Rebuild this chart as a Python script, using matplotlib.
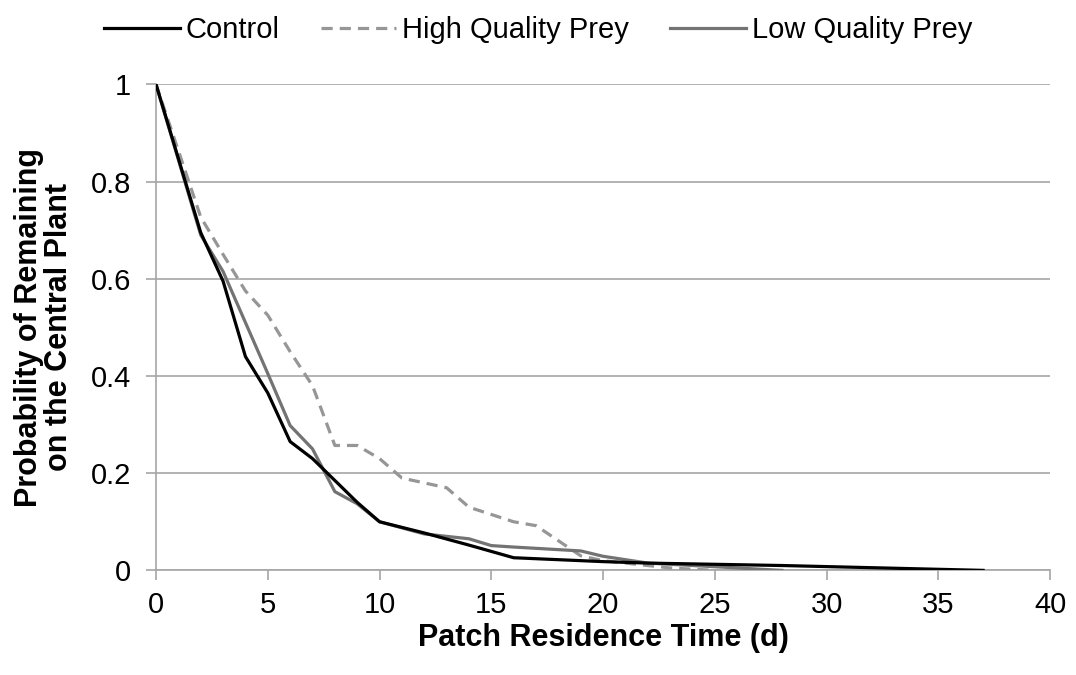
import matplotlib
matplotlib.use('Agg')
import matplotlib.pyplot as plt

plt.rcParams['font.family'] = ['Liberation Sans', 'DejaVu Sans']

# Control
ctrl_x = [0, 2, 3, 4, 5, 6, 7, 8, 9, 10, 12, 14, 16, 20, 22, 28, 37]
ctrl_y = [1.0, 0.695, 0.595, 0.44, 0.365, 0.265, 0.23, 0.185, 0.14, 0.10,
          0.077, 0.052, 0.026, 0.018, 0.015, 0.010, 0.0]

# High quality prey
high_x = [0, 2, 3, 4, 5, 6, 7, 8, 9, 10, 11, 13, 14, 15, 16, 17, 19, 20, 23, 25]
high_y = [1.0, 0.727, 0.65, 0.575, 0.525, 0.45, 0.38, 0.257, 0.257, 0.23,
          0.19, 0.17, 0.13, 0.115, 0.10, 0.092, 0.03, 0.02, 0.005, 0.0]

# Low quality prey
low_x = [0, 2, 3, 4, 5, 6, 7, 8, 9, 10, 12, 14, 15, 16, 19, 20, 22, 28]
low_y = [1.0, 0.69, 0.615, 0.51, 0.405, 0.298, 0.25, 0.162, 0.137, 0.10,
         0.075, 0.065, 0.051, 0.048, 0.04, 0.029, 0.015, 0.0]

x_ticks = [0, 5, 10, 15, 20, 25, 30, 35, 40]
y_ticks = [0, 0.2, 0.4, 0.6, 0.8, 1.0]
y_labels = ['0', '0.2', '0.4', '0.6', '0.8', '1']

fig = plt.figure(figsize=(10.76, 6.75), dpi=100)
ax = fig.add_axes([0.145, 0.155, 0.831, 0.72])

grid_c = '#a6a6a6'
ax.plot(ctrl_x, ctrl_y, color='black', lw=2.3, label='Control', zorder=4)
ax.plot(high_x, high_y, color='#969696', lw=2.3, ls=(0, (3.5, 2.2)),
        label='High Quality Prey', zorder=3)
ax.plot(low_x, low_y, color='#737373', lw=2.3, label='Low Quality Prey', zorder=3)

ax.set_xlim(0, 40)
ax.set_ylim(0, 1)
ax.set_xticks(x_ticks)
ax.set_yticks(y_ticks)
ax.set_yticklabels(y_labels)
ax.yaxis.grid(True, color=grid_c, lw=1.2)
ax.set_axisbelow(True)
for s in ['top', 'right']:
    ax.spines[s].set_visible(False)
for s in ['left', 'bottom']:
    ax.spines[s].set_color(grid_c)
    ax.spines[s].set_linewidth(1.2)
ax.tick_params(axis='both', colors=grid_c, labelcolor='black', labelsize=21,
               length=7, width=1.2, direction='out')
ax.tick_params(axis='y', pad=11)
ax.tick_params(axis='x', pad=8)

ax.set_xlabel('Patch Residence Time (d)', fontsize=22, fontweight='bold', labelpad=3)
ax.set_ylabel('Probability of Remaining\non the Central Plant', fontsize=22,
              fontweight='bold', labelpad=12, linespacing=1.0)

fig.legend(loc='upper center', bbox_to_anchor=(0.5, 1.015), ncol=3, frameon=False,
           fontsize=21, handlelength=2.6, handletextpad=0.2, columnspacing=1.4)

fig.savefig('out.png', dpi=100)
